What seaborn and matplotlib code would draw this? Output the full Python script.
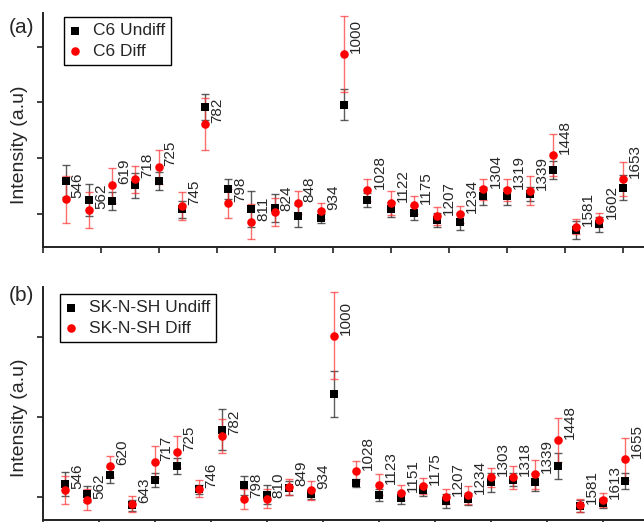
import numpy as np
import pandas as pd
import matplotlib
matplotlib.use("Agg")
import matplotlib.pyplot as plt
import seaborn as sns

# === Data (arbitrary intensity units) ===
top_peaks = ["546", "562", "619", "718", "725", "745", "782", "798", "811", "824",
             "848", "934", "1000", "1028", "1122", "1175", "1207", "1234", "1304",
             "1319", "1339", "1448", "1581", "1602", "1653"]
top_undiff = [1.59, 1.25, 1.23, 1.51, 1.59, 1.08, 2.92, 1.44, 1.08, 1.10,
              0.96, 0.92, 2.96, 1.25, 1.08, 1.01, 0.89, 0.86, 1.32,
              1.31, 1.35, 1.78, 0.71, 0.81, 1.47]
top_undiff_err = [0.29, 0.29, 0.16, 0.22, 0.16, 0.15, 0.23, 0.18, 0.32, 0.25,
                  0.20, 0.08, 0.28, 0.13, 0.13, 0.13, 0.13, 0.16, 0.16,
                  0.16, 0.13, 0.16, 0.16, 0.13, 0.23]
top_diff = [1.26, 1.07, 1.51, 1.62, 1.84, 1.14, 2.61, 1.19, 0.86, 1.03,
            1.20, 1.05, 3.87, 1.43, 1.19, 1.16, 0.96, 0.99, 1.44,
            1.43, 1.41, 2.05, 0.77, 0.89, 1.62]
top_diff_err = [0.42, 0.32, 0.31, 0.24, 0.31, 0.25, 0.47, 0.26, 0.32, 0.25,
                0.20, 0.14, 0.68, 0.20, 0.22, 0.16, 0.16, 0.15, 0.19,
                0.20, 0.26, 0.38, 0.13, 0.13, 0.31]

bot_peaks = ["546", "562", "620", "643", "717", "725", "746", "782", "798", "810",
             "849", "934", "1000", "1028", "1123", "1151", "1175", "1207", "1234",
             "1303", "1318", "1339", "1448", "1581", "1613", "1655"]
bot_undiff = [1.16, 1.03, 1.27, 0.89, 1.21, 1.38, 1.09, 1.84, 1.14, 1.02,
              1.11, 1.03, 2.29, 1.17, 1.02, 0.98, 1.08, 0.94, 0.97,
              1.18, 1.21, 1.18, 1.38, 0.88, 0.92, 1.20]
bot_undiff_err = [0.15, 0.10, 0.10, 0.07, 0.09, 0.10, 0.06, 0.26, 0.12, 0.12,
                  0.09, 0.06, 0.29, 0.05, 0.08, 0.08, 0.07, 0.09, 0.08,
                  0.12, 0.08, 0.11, 0.16, 0.07, 0.06, 0.10]
bot_diff = [1.08, 0.96, 1.38, 0.91, 1.43, 1.56, 1.10, 1.76, 0.97, 0.97,
            1.12, 1.08, 3.02, 1.32, 1.15, 1.05, 1.13, 1.00, 1.02,
            1.24, 1.24, 1.28, 1.71, 0.89, 0.96, 1.47]
bot_diff_err = [0.18, 0.13, 0.13, 0.10, 0.20, 0.20, 0.11, 0.21, 0.13, 0.12,
                0.10, 0.12, 0.55, 0.13, 0.13, 0.09, 0.10, 0.10, 0.11,
                0.12, 0.14, 0.18, 0.28, 0.08, 0.09, 0.26]

sns.set_style("ticks")
plt.rcParams["font.family"] = ["Liberation Sans", "DejaVu Sans"]

fig = plt.figure(figsize=(6.44, 5.22), dpi=100)
ax_a = fig.add_axes([0.0661, 0.5262, 0.9339, 0.4489])
ax_b = fig.add_axes([0.0661, 0.0038, 0.9339, 0.4464])


def draw_panel(ax, peaks, undiff, undiff_err, diff, diff_err, names, xmax, ylim, yticks,
               leg_anchor):
    x = np.arange(1, len(peaks) + 1)
    # error bars first, markers on top
    ax.errorbar(x, undiff, yerr=undiff_err, fmt="none", ecolor="#333333", alpha=0.8,
                elinewidth=1, capsize=3, capthick=1, zorder=2)
    ax.errorbar(x, diff, yerr=diff_err, fmt="none", ecolor="#ff3030", alpha=0.7,
                elinewidth=1, capsize=3, capthick=1, zorder=3)
    sns.scatterplot(x=x, y=undiff, marker="s", color="black", s=30, linewidth=0,
                    label=names[0], ax=ax, zorder=4)
    sns.scatterplot(x=x, y=diff, marker="o", color="#ff0000", s=38, linewidth=0,
                    label=names[1], ax=ax, zorder=5)

    # peak labels sit just right of the Diff point
    for xi, yi, txt in zip(x, diff, peaks):
        ax.annotate(txt, (xi, yi), xytext=(5, 1), textcoords="offset pixels",
                    rotation=90, ha="left", va="bottom", fontsize=11, zorder=6)

    ax.set_xlim(0, xmax)
    ax.set_ylim(*ylim)
    ax.set_xticks(np.arange(0, xmax, 2.5))
    ax.set_yticks(yticks)
    ax.set_xticklabels([])
    ax.set_yticklabels([])
    ax.tick_params(direction="out", length=4, width=1.2, colors="#222222")
    sns.despine(ax=ax)
    for s in ["left", "bottom"]:
        ax.spines[s].set_linewidth(1.4)
        ax.spines[s].set_color("#222222")

    ax.set_ylabel("Intensity (a.u)", fontsize=14)
    ax.yaxis.set_label_coords(-0.024, 0.437)

    leg = ax.legend(loc="upper left", bbox_to_anchor=leg_anchor, borderaxespad=0,
                    fancybox=False, framealpha=1, edgecolor="black", fontsize=12.5,
                    handlelength=0.6, handletextpad=0.7, borderpad=0.35,
                    labelspacing=0.3)
    leg.get_frame().set_linewidth(1.0)


draw_panel(ax_a, top_peaks, top_undiff, top_undiff_err, top_diff, top_diff_err,
           ["C6 Undiff", "C6 Diff"], 25.92, (0.397, 4.603), [1, 2, 3, 4],
           (0.0356, 0.983))
draw_panel(ax_b, bot_peaks, bot_undiff, bot_undiff_err, bot_diff, bot_diff_err,
           ["SK-N-SH Undiff", "SK-N-SH Diff"], 26.85, (0.705, 3.63), [1, 2, 3],
           (0.029, 0.969))

fig.text(0.014, 0.965, "(a)", fontsize=15, va="top", ha="left")
fig.text(0.014, 0.452, "(b)", fontsize=15, va="top", ha="left")

fig.savefig("out.png", dpi=100)
